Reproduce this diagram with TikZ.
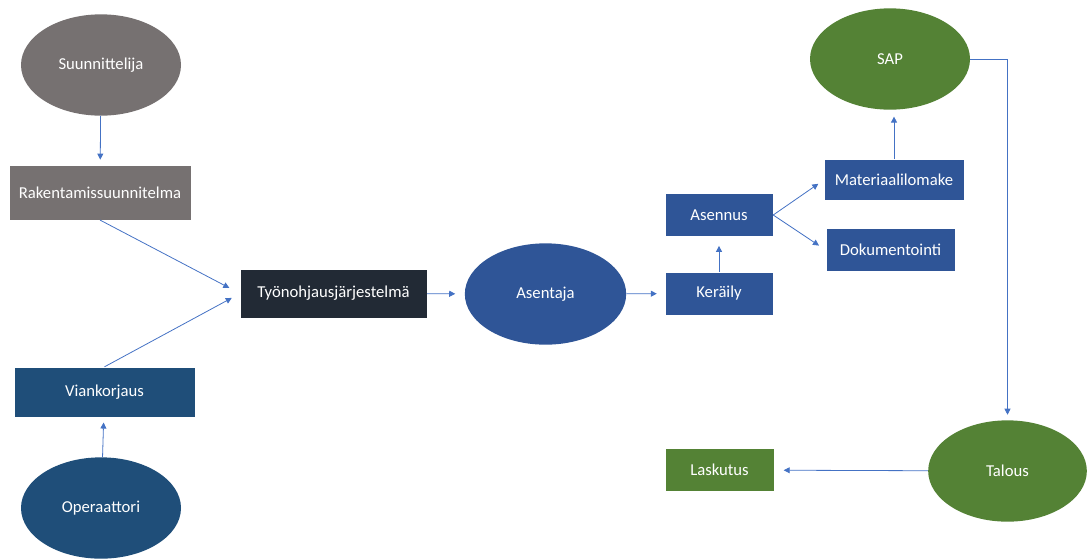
\documentclass[tikz,border=0pt]{standalone}
\usepackage{fontspec}
\setmainfont{Carlito}
\usepackage{tikz}
\usepackage{xcolor}
\usetikzlibrary{shapes.geometric, arrows.meta, positioning, calc}
\definecolor{planGray}{HTML}{767171}
\definecolor{sysNavy}{HTML}{222A35}
\definecolor{fieldBlue}{HTML}{2F5597}
\definecolor{repairBlue}{HTML}{1F4E79}
\definecolor{moneyGreen}{HTML}{548235}
\definecolor{lineBlue}{HTML}{4472C4}
\tikzstyle{oval} = [ellipse, minimum width=120pt, minimum height=76pt, inner sep=0pt,
                    text=white, draw=none, font=\fontsize{12.5}{14}\selectfont]
\tikzstyle{box} = [rectangle, inner sep=0pt, text centered, text=white, draw=white,
                   line width=0.3pt, font=\fontsize{12.5}{14}\selectfont]
\tikzstyle{arrow} = [-{Triangle[length=4.5pt,width=4.5pt]}, draw=lineBlue, line width=0.6pt]

\begin{document}
\begin{tikzpicture}[x=0.75pt, y=-0.75pt]
\useasboundingbox (0,0) rectangle (1087,558);
% left side: inputs
\node[oval, fill=planGray] (suunnittelija) at (101,65) {Suunnittelija};
\node[box, fill=planGray, minimum width=136.5pt, minimum height=41pt] (rakentamis) at (100,192.5) {Rakentamissuunnitelma};
\node[box, fill=repairBlue, minimum width=136pt, minimum height=37.5pt] (viankorjaus) at (104.5,392) {Viankorjaus};
\node[oval, fill=repairBlue] (operaattori) at (101,508) {Operaattori};
\node[box, fill=sysNavy, minimum width=140pt, minimum height=37pt] (tyonohjaus) at (333.5,293.5) {Työnohjausjärjestelmä};
% middle: field work
\node[oval, fill=fieldBlue, minimum width=121pt] (asentaja) at (545.5,294) {Asentaja};
\node[box, fill=fieldBlue, minimum width=81pt, minimum height=32.5pt] (keraily) at (719,293.5) {Keräily};
\node[box, fill=fieldBlue, minimum width=81pt, minimum height=32pt] (asennus) at (719,215) {Asennus};
\node[box, fill=fieldBlue, minimum width=105pt, minimum height=31pt] (materiaali) at (894,180) {Materiaalilomake};
\node[box, fill=fieldBlue, minimum width=97pt, minimum height=32pt] (dokumentointi) at (890.5,250) {Dokumentointi};
% right side: billing
\node[oval, fill=moneyGreen] (sap) at (890,59) {SAP};
\node[oval, fill=moneyGreen, minimum width=119pt] (talous) at (1007.5,471) {Talous};
\node[box, fill=moneyGreen, minimum width=82pt, minimum height=32pt] (laskutus) at (719.5,470) {Laskutus};

\draw[arrow, shorten >=4pt] (suunnittelija) -- (rakentamis);
\draw[arrow, shorten >=4pt] (operaattori) -- (viankorjaus);
\draw[arrow, shorten >=9pt] (rakentamis.south) -- (tyonohjaus.west);
\draw[arrow, shorten >=7pt] (viankorjaus.north) -- (tyonohjaus.west);
\draw[arrow, shorten >=7pt] (tyonohjaus) -- (asentaja);
\draw[arrow, shorten >=6pt] (asentaja) -- (keraily);
\draw[arrow, shorten >=7pt] (keraily) -- (asennus);
\draw[arrow, shorten >=5pt] (asennus.east) -- (materiaali.west);
\draw[arrow, shorten >=6pt] (asennus.east) -- (dokumentointi.west);
\draw[arrow, shorten >=5pt] (materiaali.north) -- (materiaali.north |- sap.south);
\draw[arrow, shorten >=4pt] (sap.east) -| (talous.north);
\draw[arrow, shorten >=7pt] (talous) -- (laskutus);
\end{tikzpicture}
\end{document}
